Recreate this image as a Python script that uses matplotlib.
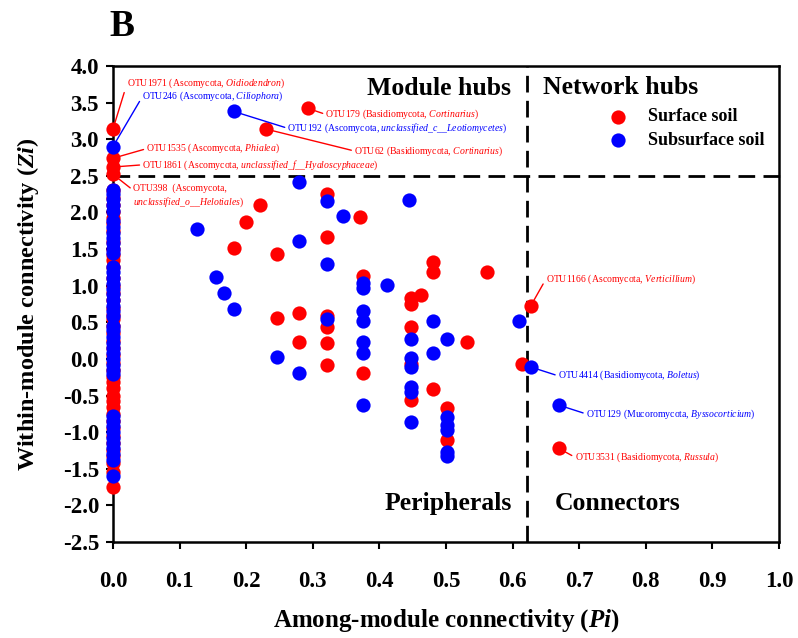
import matplotlib
matplotlib.use("Agg")
import matplotlib.pyplot as plt
import numpy as np

plt.rcParams["font.family"] = ["Liberation Serif", "DejaVu Serif"]
plt.rcParams["mathtext.fontset"] = "custom"
plt.rcParams["mathtext.rm"] = "Liberation Serif"
plt.rcParams["mathtext.it"] = "Liberation Serif:italic"
plt.rcParams["mathtext.bf"] = "Liberation Serif:bold"
plt.rcParams["mathtext.bfit"] = "Liberation Serif:italic:bold"

# ---- Surface soil nodes (Pi, Zi) ----
surface_col0_zi = [3.14, 2.74, 2.62, 2.52,
                   2.30, 2.20, 2.10, 2.00, 1.93, 1.85, 1.75, 1.60, 1.50, 1.42,
                   1.35, 1.25, 1.10, 1.00, 0.90, 0.80, 0.70, 0.60, 0.55, 0.45,
                   0.35, 0.25, 0.15, 0.05, -0.05, -0.15, -0.25, -0.32, -0.40,
                   -0.50, -0.58, -0.65, -0.75, -0.85, -0.95, -1.05, -1.15,
                   -1.25, -1.32, -1.42, -1.55, -1.75]
surface_pi = [0.293, 0.229, 0.321, 0.220, 0.199, 0.371, 0.321, 0.181, 0.246,
              0.376, 0.481, 0.481, 0.562, 0.447, 0.462, 0.447, 0.246, 0.279,
              0.321, 0.321, 0.447, 0.279, 0.321, 0.532, 0.321, 0.376, 0.447,
              0.481, 0.447, 0.502, 0.502, 0.614, 0.627, 0.669]
surface_zi = [3.42, 3.14, 2.25, 2.10, 1.87, 1.94, 1.67, 1.52, 1.43,
              1.13, 1.33, 1.18, 1.19, 0.83, 0.87, 0.75, 0.56, 0.63,
              0.58, 0.43, 0.43, 0.23, 0.22, 0.23, -0.08, -0.19, -0.07,
              -0.41, -0.56, -0.67, -1.11, -0.07, 0.72, -1.22]

# ---- Subsurface soil nodes (Pi, Zi) ----
subsurface_col0_zi = [2.90, 2.30, 2.25, 2.18, 2.10, 2.02, 1.88, 1.80, 1.72,
                      1.65, 1.58, 1.50, 1.45, 1.25, 1.18, 1.10, 1.02, 0.95,
                      0.88, 0.80, 0.72, 0.65, 0.58, 0.45, 0.40, 0.30, 0.22,
                      0.15, 0.08, 0.00, -0.08, -0.15, -0.20, -0.78, -0.85,
                      -0.92, -1.00, -1.08, -1.15, -1.22, -1.30, -1.38, -1.60]
subsurface_pi = [0.181, 0.279, 0.321, 0.444, 0.346, 0.126, 0.279, 0.321,
                 0.154, 0.167, 0.181, 0.376, 0.376, 0.411, 0.321, 0.376,
                 0.376, 0.447, 0.481, 0.502, 0.376, 0.376, 0.447, 0.447,
                 0.481, 0.246, 0.279, 0.447, 0.447, 0.376, 0.447, 0.502,
                 0.502, 0.502, 0.502, 0.502, 0.610, 0.627, 0.669]
subsurface_zi = [3.38, 2.42, 2.16, 2.17, 1.95, 1.77, 1.61, 1.29,
                 1.12, 0.90, 0.68, 1.03, 0.97, 1.01, 0.55, 0.66,
                 0.52, 0.27, 0.52, 0.27, 0.23, 0.08, 0.01, -0.11,
                 0.08, 0.03, -0.19, -0.38, -0.45, -0.63, -0.86, -0.80,
                 -0.90, -0.97, -1.27, -1.33, 0.52, -0.11, -0.63]

# ---- Labelled key nodes ----
key_otu = ["OTU1971", "OTU246", "OTU1535", "OTU1861", "OTU398",
           "OTU179", "OTU192", "OTU62", "OTU1166", "OTU4414",
           "OTU129", "OTU3531"]
key_phylum = ["Ascomycota", "Ascomycota", "Ascomycota", "Ascomycota",
              "Ascomycota", "Basidiomycota", "Ascomycota", "Basidiomycota",
              "Ascomycota", "Basidiomycota", "Mucoromycota", "Basidiomycota"]
key_genus = ["Oidiodendron", "Ciliophora", "Phialea",
             "unclassified_f__Hyaloscyphaceae", "unclassified_o__Helotiales",
             "Cortinarius", "unclassified_c__Leotiomycetes", "Cortinarius",
             "Verticillium", "Boletus", "Byssocorticium", "Russula"]
key_layer = ["surface", "subsurface", "surface", "surface", "surface",
             "surface", "subsurface", "surface", "surface", "subsurface",
             "subsurface", "surface"]
key_pi = [0.0, 0.0, 0.0, 0.0, 0.0, 0.293, 0.181, 0.229, 0.627, 0.627,
          0.669, 0.669]
key_zi = [3.14, 2.90, 2.74, 2.62, 2.52, 3.42, 3.38, 3.14, 0.72, -0.11,
          -0.63, -1.22]
label_pi = [0.021, 0.044, 0.050, 0.044, 0.030, 0.319, 0.262, 0.362, 0.650,
            0.668, 0.710, 0.693]
label_zi = [3.76, 3.58, 2.87, 2.65, 2.22, 3.34, 3.15, 2.84, 1.09, -0.23,
            -0.75, -1.34]

colors = {"surface": "#ff0000", "subsurface": "#0000ff"}

fig = plt.figure(figsize=(7.98, 6.38), dpi=100)
ax = fig.add_axes([0.1416, 0.1505, 0.8346, 0.7461])

ms = 105
ax.scatter(np.zeros(len(surface_col0_zi)), surface_col0_zi, s=ms,
           color=colors["surface"], linewidths=0, zorder=3, clip_on=False)
ax.scatter(surface_pi, surface_zi, s=ms, color=colors["surface"],
           linewidths=0, zorder=3, label="Surface soil")
ax.scatter(np.zeros(len(subsurface_col0_zi)), subsurface_col0_zi, s=ms,
           color=colors["subsurface"], linewidths=0, zorder=4, clip_on=False)
ax.scatter(subsurface_pi, subsurface_zi, s=ms, color=colors["subsurface"],
           linewidths=0, zorder=4, label="Subsurface soil")

# thresholds Zi = 2.5 and Pi = 0.62
ax.axhline(2.5, xmin=0, xmax=1.005, color="black", lw=2.0,
           dashes=(6, 3), zorder=2, clip_on=False)
ax.axvline(0.622, color="black", lw=2.0, dashes=(6, 3), zorder=2)

# annotations for the key nodes
for otu, ph, gen, lay, px, pz, lx, lz in zip(key_otu, key_phylum, key_genus,
                                              key_layer, key_pi, key_zi,
                                              label_pi, label_zi):
    g = gen.replace("_", r"\_")
    if otu == "OTU398":
        txt = f"{otu}  ({ph},\n" + r"$\mathit{" + g + "}$)"
    else:
        txt = f"{otu} ({ph}, " + r"$\mathit{" + g + "}$)"
    c = colors[lay]
    ax.annotate(txt, xy=(px, pz), xytext=(lx, lz), fontsize=7.0, color=c,
                ha="left", va="center", linespacing=1.2, zorder=5,
                arrowprops=dict(arrowstyle="-", color=c, lw=1.0,
                                shrinkA=0, shrinkB=0,
                                relpos=(0, 0.5) if otu != "OTU398" else (0, 0.75)))

# region names
for name, x, y in [("Module hubs", 0.489, 3.69), ("Network hubs", 0.762, 3.70),
                   ("Peripherals", 0.504, -1.98), ("Connectors", 0.758, -1.98)]:
    ax.text(x, y, name, fontsize=18.5, fontweight="bold", ha="center",
            va="center", zorder=5)

ax.set_xlim(0, 1.0)
ax.set_ylim(-2.5, 4.0)
ax.set_xticks(np.arange(0, 1.01, 0.1))
ax.set_yticks(np.arange(-2.5, 4.01, 0.5))
ax.xaxis.set_major_formatter(matplotlib.ticker.FormatStrFormatter("%.1f"))
ax.yaxis.set_major_formatter(matplotlib.ticker.FormatStrFormatter("%.1f"))
for lab in ax.get_xticklabels() + ax.get_yticklabels():
    lab.set_fontweight("bold")
ax.tick_params(direction="out", length=5, width=1.5, labelsize=16.5)
ax.tick_params(axis="x", pad=16)
ax.tick_params(axis="y", pad=5)
for sp in ax.spines.values():
    sp.set_linewidth(1.8)

ax.set_xlabel(r"Among-module connectivity ($\mathbfit{Pi}$)", fontsize=18,
              fontweight="bold", labelpad=11)
ax.set_ylabel(r"Within-module connectivity ($\mathbfit{Zi}$)", fontsize=17.5,
              fontweight="bold", labelpad=16)

leg = ax.legend(loc="upper left", bbox_to_anchor=(0.706, 0.945), frameon=False,
                prop={"weight": "bold", "size": 13},
                handletextpad=0.7, labelspacing=0.35, markerscale=1.0)

fig.text(0.153, 0.958, "B", fontsize=27, fontweight="bold", ha="center",
         va="center")

fig.savefig("out.png", dpi=100)
